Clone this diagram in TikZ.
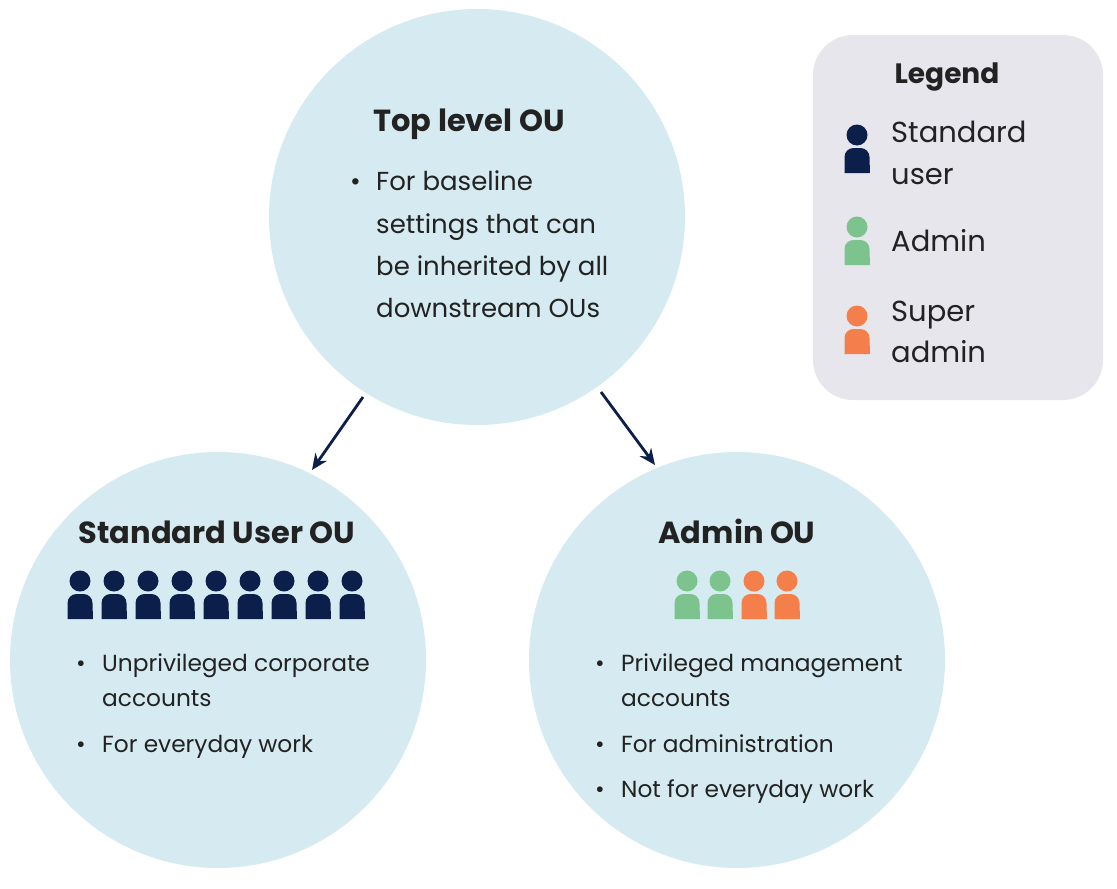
\documentclass[tikz,border=0pt]{standalone}
\usepackage{fontspec}
\usetikzlibrary{arrows.meta}
\setmainfont{Poppins}
\definecolor{circ}{HTML}{D5EBF1}
\definecolor{navy}{HTML}{0B1F4A}
\definecolor{grn}{HTML}{7DC38E}
\definecolor{org}{HTML}{F47F4A}
\definecolor{leg}{HTML}{E6E6EC}
\definecolor{txt}{HTML}{222222}
\begin{document}
\begin{tikzpicture}[x=1pt,y=-1pt,
  ou/.style={circle,fill=circ,minimum size=416pt,inner sep=0pt},
  ttl/.style={font=\fontsize{30.5}{34}\selectfont\bfseries,text=txt,anchor=base},
  bt/.style={font=\fontsize{23.3}{28}\selectfont,text=txt,anchor=base west,inner sep=0pt},
  btb/.style={font=\fontsize{26}{30}\selectfont,text=txt,anchor=base west,inner sep=0pt},
  lt/.style={font=\fontsize{29}{32}\selectfont,text=txt,anchor=base west,inner sep=0pt},
  arr/.style={draw=navy,line width=2.8pt,-{Stealth[length=16pt,width=14pt]}}]
\useasboundingbox (0,0) rectangle (1117,889);
\def\person#1#2#3{%
  \fill[#3] (#1,#2) circle (10.5);
  \fill[#3,rounded corners=9pt] (#1-12.5,#2+38) -- (#1-12.5,#2+13) -- (#1+12.5,#2+13) -- (#1+12.5,#2+38);
  \fill[#3] (#1-12.5,#2+30) rectangle (#1+12.5,#2+38);}
\node[ou] (top) at (477,217) {};
\node[ou] (std) at (218,660) {};
\node[ou] (adm) at (737,660) {};
\draw[arr] (363,397) -- (312,470);
\draw[arr] (601,392) -- (655,465);
% top
\node[ttl] (t1) at (469,131) {Top level OU};
\node[btb] at (350,190) {•};
\node[btb] (t2) at (376,190) {For baseline};
\node[btb] (t3) at (376,233) {settings that can};
\node[btb] (t4) at (376,275) {be inherited by all};
\node[btb] (t5) at (376,317) {downstream OUs};
% standard
\node[ttl] (s1) at (217,543) {Standard User OU};
\foreach \i in {0,...,8} {\person{80+\i*34}{581}{navy}}
\node[bt] at (76,671) {•};
\node[bt] (s2) at (102,671) {Unprivileged corporate};
\node[bt] at (102,706) {accounts};
\node[bt] at (76,752) {•};
\node[bt] (s3) at (102,752) {For everyday work};
% admin
\node[ttl] (a1) at (737,543) {Admin OU};
\person{687}{581}{grn}\person{720}{581}{grn}\person{754}{581}{org}\person{787}{581}{org}
\node[bt] at (595,671) {•};
\node[bt] at (621,671) {Privileged management};
\node[bt] at (621,706) {accounts};
\node[bt] at (595,752) {•};
\node[bt] at (621,752) {For administration};
\node[bt] at (595,797) {•};
\node[bt] at (621,797) {Not for everyday work};
% legend
\fill[leg,rounded corners=40pt] (813,35) rectangle (1103,400);
\node[ttl,font=\fontsize{28}{32}\selectfont\bfseries] at (947,83) {Legend};
\person{857}{135}{navy}
\node[lt] at (891,142) {Standard};
\node[lt] at (891,184) {user};
\person{857}{227}{grn}
\node[lt] at (891,251) {Admin};
\person{857}{316}{org}
\node[lt] at (891,321) {Super};
\node[lt] at (891,362) {admin};
\end{tikzpicture}
\end{document}
